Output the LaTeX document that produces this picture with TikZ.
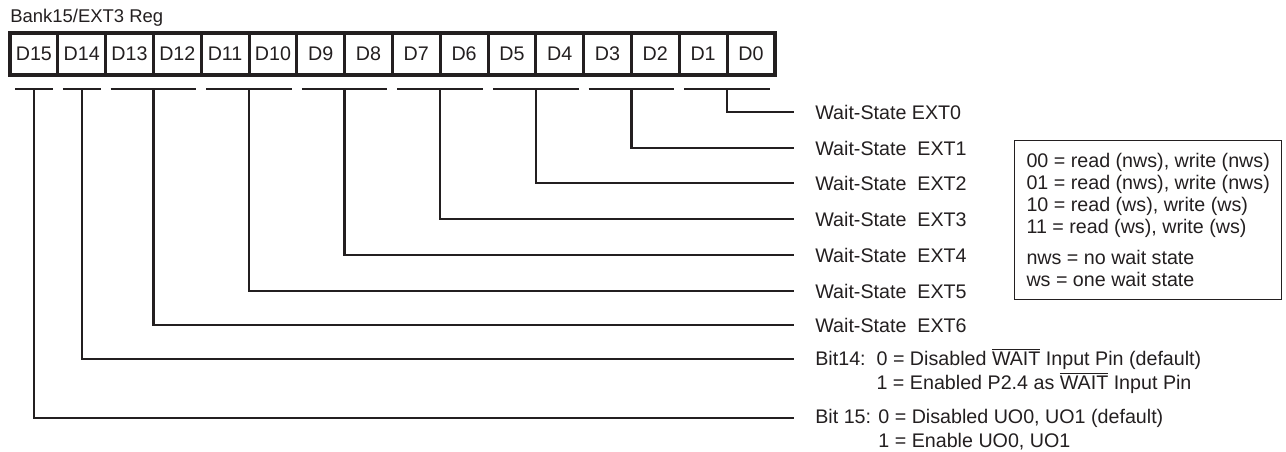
\documentclass[tikz,border=0pt]{standalone}
\usepackage{fontspec}
\setmainfont{Liberation Sans}
\usepackage{tikz}
\usetikzlibrary{positioning,calc}
\definecolor{regink}{RGB}{35,31,32}
\tikzstyle{cell} = [draw=regink, line width=1.7pt, outer sep=0pt, inner sep=0pt, minimum width=0.956cm, minimum height=0.84cm, text=regink, font=\fontsize{11.2}{13}\selectfont]
\tikzstyle{bar} = [line width=1.3pt, color=regink]
\tikzstyle{wire} = [line width=1.3pt, color=regink]
\tikzstyle{lbl} = [inner sep=0pt, text=regink, font=\fontsize{11.2}{13}\selectfont]
\tikzstyle{legend} = [draw=regink, line width=0.8pt, inner sep=0pt, minimum width=5.34cm, minimum height=3.18cm, text=regink, align=left, font=\fontsize{11.2}{12.5}\selectfont]

\begin{document}
\begin{tikzpicture}[x=0.02cm,y=-0.02cm]
\useasboundingbox (0,0) rectangle (1286,451);

% Register title
\node[lbl, anchor=west, font=\fontsize{10.5}{12}\selectfont] (title) at (10,18) {Bank15/EXT3 Reg};

% Register cells D15 ... D0
\foreach \i in {0,...,15} {
  \pgfmathtruncatemacro{\n}{15-\i}
  \node[cell] (d\n) at ({10+47.8*(\i+0.5)},54) {D\n};
}
\draw[line width=2.2pt, regink] (d15.north west) rectangle (d0.south east);

% Field bars and their leads
\foreach \l/\r/\k/\y in {d1/d0/0/112, d3/d2/1/148, d5/d4/2/183, d7/d6/3/219, d9/d8/4/255, d11/d10/5/291, d13/d12/6/325, d14/d14/14/359, d15/d15/15/418} {
  \draw[bar] ($(\l.south west)+(5,14)$) -- coordinate[midway] (b\k) ($(\r.south east)+(-5,14)$);
  \coordinate (e\k) at (794,\y);
  \draw[wire] (b\k) |- (e\k);
}

% Field descriptions
\node[lbl, right=0.42cm of e0] (ext0) {Wait-State EXT0};
\foreach \k in {1,...,6}
  \node[lbl, right=0.42cm of e\k] (ext\k) {Wait-State\ \ EXT\k};
\node[lbl, right=0.42cm of e14] (bit14)
  {Bit14:\ \ 0 = Disabled $\overline{\mbox{WAIT}}$ Input Pin (default)};
\node[lbl, anchor=base west] (bit14b) at ($(bit14.base west)+(0,24)$)
  {\phantom{Bit14:\ \ }1 = Enabled P2.4 as $\overline{\mbox{WAIT}}$ Input Pin};
\node[lbl, right=0.42cm of e15] (bit15)
  {Bit 15: 0 = Disabled UO0, UO1 (default)};
\node[lbl, anchor=base west] (bit15b) at ($(bit15.base west)+(0,24)$)
  {\phantom{Bit 15: }1 = Enable UO0, UO1};

% Legend
\node[legend, anchor=north west] (codes) at (1014,140)
  {00 = read (nws), write (nws)\\
   01 = read (nws), write (nws)\\
   10 = read (ws), write (ws)\\
   11 = read (ws), write (ws)\\[5pt]
   nws = no wait state\\
   ws = one wait state};
\end{tikzpicture}
\end{document}
